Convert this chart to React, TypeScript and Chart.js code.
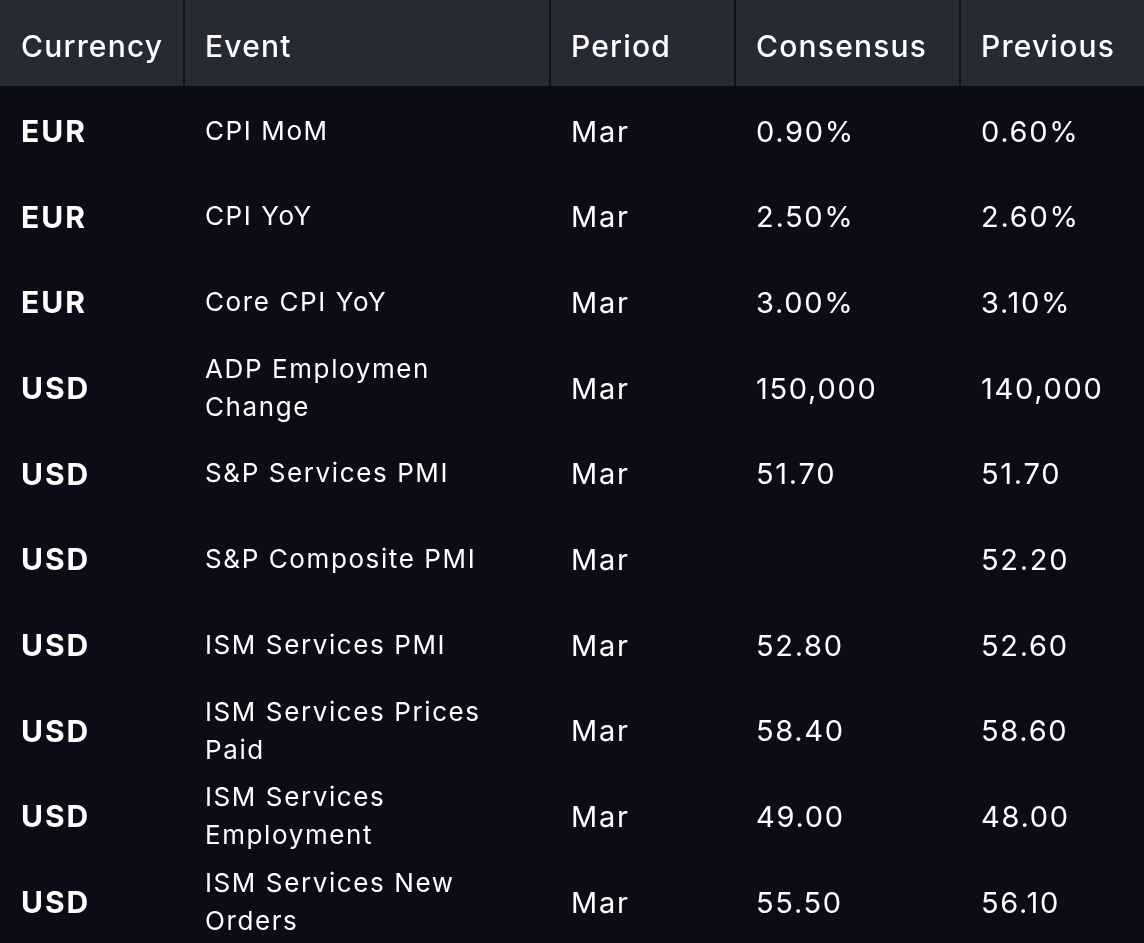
import React, { useEffect, useRef } from 'react';
import { Chart, registerables } from 'chart.js';

Chart.register(...registerables);

const HEADERS = ['Currency', 'Event', 'Period', 'Consensus', 'Previous'];
const CURRENCIES = ['EUR', 'EUR', 'EUR', 'USD', 'USD', 'USD', 'USD', 'USD', 'USD', 'USD'];
const EVENTS = [
  'CPI MoM',
  'CPI YoY',
  'Core CPI YoY',
  'ADP Employmen\nChange',
  'S&P Services PMI',
  'S&P Composite PMI',
  'ISM Services PMI',
  'ISM Services Prices\nPaid',
  'ISM Services\nEmployment',
  'ISM Services New\nOrders',
];
const PERIODS = ['Mar', 'Mar', 'Mar', 'Mar', 'Mar', 'Mar', 'Mar', 'Mar', 'Mar', 'Mar'];
const CONSENSUS = ['0.90%', '2.50%', '3.00%', '150,000', '51.70', '', '52.80', '58.40', '49.00', '55.50'];
const PREVIOUS = ['0.60%', '2.60%', '3.10%', '140,000', '51.70', '52.20', '52.60', '58.60', '48.00', '56.10'];

// layout constants
const W = 1144;
const H = 943;
const HEADER_H = 86;
const COL_EDGES = [0, 184, 550, 735, 960, 1144];
const PAD = 21;
const FONT = 'Inter, "Noto Sans", sans-serif';
const HEADER_BG = '#272935';
const BODY_BG = '#0b0c18';
const SEP = '#10121c';
const TEXT = '#ffffff';

const ROW_KEYS = CURRENCIES.map((_, i) => String(i));

const tablePlugin = {
  id: 'tablePlugin',
  beforeDraw(chart: any) {
    const { ctx, scales } = chart;
    const x = scales.x;
    ctx.save();
    ctx.fillStyle = BODY_BG;
    ctx.fillRect(0, 0, chart.width, chart.height);
    ctx.fillStyle = HEADER_BG;
    ctx.fillRect(0, 0, chart.width, HEADER_H);
    ctx.strokeStyle = SEP;
    ctx.lineWidth = 2;
    for (let c = 1; c < COL_EDGES.length - 1; c++) {
      const px = Math.round(x.getPixelForValue(COL_EDGES[c]));
      ctx.beginPath();
      ctx.moveTo(px, 0);
      ctx.lineTo(px, HEADER_H);
      ctx.stroke();
    }
    ctx.restore();
  },
  afterDraw(chart: any) {
    const { ctx, scales } = chart;
    const x = scales.x;
    const y = scales.y;
    ctx.save();
    ctx.fillStyle = TEXT;
    ctx.textAlign = 'left';
    ctx.textBaseline = 'middle';
    // header
    ctx.font = `500 30px ${FONT}`;
    ctx.letterSpacing = '1.2px';
    HEADERS.forEach((h, c) => {
      ctx.fillText(h, x.getPixelForValue(COL_EDGES[c]) + PAD, HEADER_H / 2 + 5);
    });
    const columns = [CURRENCIES, EVENTS, PERIODS, CONSENSUS, PREVIOUS];
    ROW_KEYS.forEach((_, i) => {
      const cy = y.getPixelForValue(i) + 4;
      columns.forEach((col, c) => {
        const tx = x.getPixelForValue(COL_EDGES[c]) + PAD;
        const val = col[i];
        if (!val) return;
        if (c === 0) {
          ctx.font = `700 30px ${FONT}`;
          ctx.letterSpacing = '2px';
          ctx.fillText(val, tx, cy);
        } else if (c === 1) {
          ctx.font = `400 26px ${FONT}`;
          ctx.letterSpacing = '1.6px';
          const lines = val.split('\n');
          const lh = 38;
          const start = cy - 1 - ((lines.length - 1) * lh) / 2;
          lines.forEach((ln, k) => ctx.fillText(ln, tx, start + k * lh));
        } else {
          ctx.font = `400 29px ${FONT}`;
          ctx.letterSpacing = '1.7px';
          ctx.fillText(val, tx, cy);
        }
      });
    });
    ctx.restore();
  },
};

export default function App() {
  const ref = useRef<HTMLCanvasElement | null>(null);
  useEffect(() => {
    document.body.style.margin = '0';
    document.body.style.background = BODY_BG;
    if (!ref.current) return;
    const chart = new Chart(ref.current, {
      type: 'scatter',
      data: {
        labels: ROW_KEYS,
        datasets: HEADERS.map((h, c) => ({
          label: h,
          data: ROW_KEYS.map((k) => ({ x: COL_EDGES[c], y: k })) as any,
          pointRadius: 0,
          pointHoverRadius: 0,
        })),
      },
      options: {
        animation: false,
        responsive: false,
        devicePixelRatio: 1,
        layout: { padding: { top: HEADER_H, left: 0, right: 0, bottom: 0 } },
        plugins: { legend: { display: false }, tooltip: { enabled: false } },
        events: [],
        scales: {
          x: { type: 'linear', min: 0, max: W, display: false },
          y: { type: 'category', labels: ROW_KEYS, offset: true, display: false },
        },
      },
      plugins: [tablePlugin],
    });
    return () => chart.destroy();
  }, []);
  return (
    <div style={{ width: W, height: H }}>
      <canvas ref={ref} width={W} height={H} style={{ display: 'block' }} />
    </div>
  );
}
